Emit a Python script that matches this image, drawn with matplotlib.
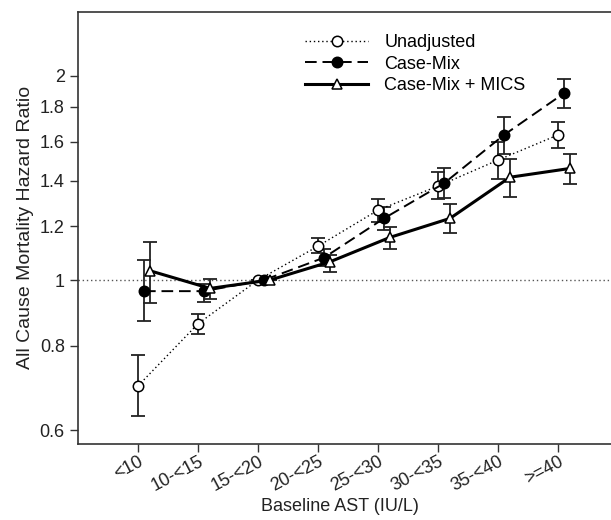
import matplotlib
matplotlib.use('Agg')
import matplotlib.pyplot as plt
import numpy as np

plt.rcParams['font.family'] = ['Liberation Sans', 'DejaVu Sans']

# AST categories
categories = ['<10', '10-<15', '15-<20', '20-<25', '25-<30', '30-<35', '35-<40', '>=40']

# hazard ratios with 95% CI
hr_unadj = [0.698, 0.862, 1.0, 1.122, 1.268, 1.376, 1.503, 1.637]
lo_unadj = [0.630, 0.832, 1.0, 1.095, 1.219, 1.315, 1.408, 1.564]
hi_unadj = [0.775, 0.890, 1.0, 1.155, 1.316, 1.445, 1.600, 1.713]

hr_cm = [0.963, 0.963, 1.0, 1.079, 1.233, 1.389, 1.637, 1.886]
lo_cm = [0.870, 0.928, 1.0, 1.049, 1.185, 1.320, 1.533, 1.793]
hi_cm = [1.070, 0.986, 1.0, 1.110, 1.283, 1.462, 1.742, 1.981]

hr_mics = [1.032, 0.972, 1.0, 1.064, 1.156, 1.233, 1.418, 1.461]
lo_mics = [0.924, 0.937, 1.0, 1.029, 1.110, 1.172, 1.327, 1.384]
hi_mics = [1.138, 1.002, 1.0, 1.089, 1.199, 1.295, 1.509, 1.533]

yticks = [0.6, 0.8, 1, 1.2, 1.4, 1.6, 1.8, 2]


def plot_series(ax, x, hr, lo, hi, style, lw, marker, fill, label):
    hr = np.array(hr)
    err = [hr - np.array(lo), np.array(hi) - hr]
    ax.errorbar(x, hr, yerr=err, fmt='none', ecolor='#222222', elinewidth=1.3,
                capsize=5, capthick=1.3, zorder=2)
    ax.plot(x, hr, color='black', linestyle=style, linewidth=lw, marker=marker,
            markersize=7.5, markerfacecolor=fill, markeredgecolor='black',
            markeredgewidth=1.1, label=label, zorder=3)


fig = plt.figure(figsize=(6.11, 5.2), dpi=100)
ax = fig.add_axes([78 / 611, 76 / 520, 540 / 611, 432.3 / 520])

x = np.arange(1, len(categories) + 1)
ax.axhline(1, color='#555555', linestyle=(0, (1, 2)), linewidth=1, zorder=1)

plot_series(ax, x, hr_unadj, lo_unadj, hi_unadj, (0, (1, 2)), 1.0, 'o', 'white', 'Unadjusted')
plot_series(ax, x + 0.1, hr_cm, lo_cm, hi_cm, (0, (6, 3)), 1.4, 'o', 'black', 'Case-Mix')
plot_series(ax, x + 0.2, hr_mics, lo_mics, hi_mics, '-', 2.2, '^', 'white', 'Case-Mix + MICS')

ax.set_yscale('log')
ax.set_ylim(0.573, 2.488)
ax.set_xlim(0, 9)
ax.set_yticks(yticks)
ax.set_yticklabels([str(t) for t in yticks])
ax.minorticks_off()
ax.set_xticks(x)
ax.set_xticklabels(categories, rotation=28, ha='right', rotation_mode='anchor')

ax.tick_params(axis='both', labelsize=13, length=6, width=1, color='#333333', labelcolor='#222222')
ax.tick_params(axis='x', pad=0.5)
for side in ['left', 'bottom', 'top']:
    ax.spines[side].set_color('#333333')
    ax.spines[side].set_linewidth(1.2)
ax.spines['right'].set_visible(False)

ax.set_xlabel('Baseline AST (IU/L)', fontsize=13, color='#222222')
ax.xaxis.set_label_coords(0.485, -0.124)
ax.set_ylabel('All Cause Mortality Hazard Ratio', fontsize=14, color='#222222', labelpad=4)

ax.legend(loc='upper left', bbox_to_anchor=(0.387, 0.99), frameon=False, fontsize=13,
          handlelength=3.5, handletextpad=0.9, labelspacing=0.25, borderaxespad=0.6)

fig.savefig('out.png', dpi=100)
